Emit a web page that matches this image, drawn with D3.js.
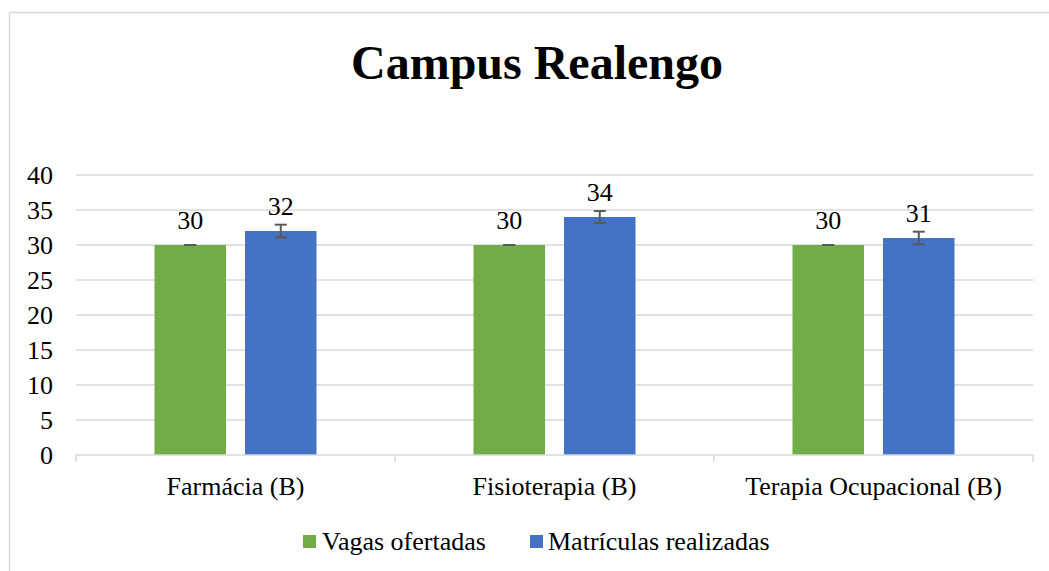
<!DOCTYPE html>
<html>
<head>
<meta charset="utf-8">
<script src="https://cdn.jsdelivr.net/npm/d3@7"></script>
<style>
  html, body { margin: 0; padding: 0; background: #fff; }
</style>
</head>
<body>
<svg id="chart" width="1049" height="571"></svg>
<script>
const categories = ["Farmácia (B)", "Fisioterapia (B)", "Terapia Ocupacional (B)"];
const seriesNames = ["Vagas ofertadas", "Matrículas realizadas"];
const vagas = [30, 30, 30];
const matriculas = [32, 34, 31];
const errVagas = [0, 0, 0];
const errMatriculas = [0.9, 0.85, 0.9];
const yTicks = [0, 5, 10, 15, 20, 25, 30, 35, 40];
const colors = ["#70ad47", "#4472c4"];

const values = [vagas, matriculas];
const errors = [errVagas, errMatriculas];

const serif = "'Liberation Serif'";
const plotLeft = 76, plotRight = 1033, plotTop = 175, plotBottom = 455;

const svg = d3.select("#chart")
   .attr("font-family", serif);

// outer frame
svg.append("rect")
   .attr("x", 9.5).attr("y", 12.5)
   .attr("width", 1100).attr("height", 600)
   .attr("fill", "none")
   .attr("stroke", "#d9d9d9")
   .attr("stroke-width", 1.5);

svg.append("text")
   .attr("x", 537).attr("y", 79)
   .attr("text-anchor", "middle")
   .attr("font-family", serif)
   .attr("font-size", 48)
   .attr("font-weight", "bold")
   .text("Campus Realengo");

const y = d3.scaleLinear().domain([0, 40]).range([plotBottom, plotTop]);
const x0 = d3.scaleBand().domain(categories).range([plotLeft, plotRight]).padding(0);
const x1 = d3.scaleBand().domain(seriesNames)
   .range([0, x0.bandwidth()])
   .paddingInner(0.21)
   .paddingOuter(0.867);

// gridlines
svg.append("g")
   .selectAll("line")
   .data(yTicks.filter(d => d > 0))
   .join("line")
   .attr("x1", plotLeft).attr("x2", plotRight)
   .attr("y1", d => y(d)).attr("y2", d => y(d))
   .attr("stroke", "#d9d9d9")
   .attr("stroke-width", 1.5);

// y axis labels
const yAxis = svg.append("g")
   .attr("transform", `translate(${plotLeft - 23},0)`)
   .call(d3.axisLeft(y).tickValues(yTicks).tickSize(0).tickPadding(0));
yAxis.attr("font-family", serif).attr("font-size", 26);
yAxis.select(".domain").remove();
yAxis.selectAll("text").attr("fill", "#000");

// bars
const groups = svg.append("g")
   .selectAll("g")
   .data(seriesNames)
   .join("g")
   .attr("fill", (d, i) => colors[i]);

groups.selectAll("rect")
   .data((s, si) => categories.map((c, ci) => ({ c, s, v: values[si][ci], e: errors[si][ci] })))
   .join("rect")
   .attr("x", d => x0(d.c) + x1(d.s))
   .attr("width", x1.bandwidth())
   .attr("y", d => y(d.v))
   .attr("height", d => y(0) - y(d.v));

// x axis line with boundary ticks
svg.append("line")
   .attr("x1", plotLeft).attr("x2", plotRight)
   .attr("y1", y(0)).attr("y2", y(0))
   .attr("stroke", "#d9d9d9").attr("stroke-width", 1.5);

const bounds = categories.map(c => x0(c)).concat([plotRight]);
svg.append("g")
   .selectAll("line")
   .data(bounds)
   .join("line")
   .attr("x1", d => d).attr("x2", d => d)
   .attr("y1", y(0)).attr("y2", y(0) + 7)
   .attr("stroke", "#d9d9d9").attr("stroke-width", 1.5);

const xAxis = svg.append("g")
   .attr("transform", `translate(0,${y(0)})`)
   .call(d3.axisBottom(x0).tickSize(0).tickPadding(0));
xAxis.attr("font-family", serif).attr("font-size", 26);
xAxis.select(".domain").remove();
xAxis.selectAll("text")
   .attr("dy", null)
   .attr("y", 40)
   .attr("fill", "#000");

// error bars
const errG = svg.append("g")
   .attr("stroke", "#595959")
   .attr("stroke-width", 2)
   .selectAll("g")
   .data(seriesNames.flatMap((s, si) => categories.map((c, ci) => ({ c, s, v: values[si][ci], e: errors[si][ci] }))))
   .join("g")
   .attr("transform", d => `translate(${x0(d.c) + x1(d.s) + x1.bandwidth() / 2},0)`);

errG.append("line")
   .attr("x1", 0).attr("x2", 0)
   .attr("y1", d => y(d.v + d.e)).attr("y2", d => y(d.v - d.e));
errG.append("line")
   .attr("x1", -6).attr("x2", 6)
   .attr("y1", d => y(d.v + d.e)).attr("y2", d => y(d.v + d.e));
errG.append("line")
   .attr("x1", -6).attr("x2", 6)
   .attr("y1", d => y(d.v - d.e)).attr("y2", d => y(d.v - d.e));

// data labels
svg.append("g")
   .attr("font-family", serif)
   .attr("font-size", 26)
   .selectAll("text")
   .data(seriesNames.flatMap((s, si) => categories.map((c, ci) => ({ c, s, v: values[si][ci] }))))
   .join("text")
   .attr("x", d => x0(d.c) + x1(d.s) + x1.bandwidth() / 2)
   .attr("y", d => y(d.v) - 16)
   .attr("text-anchor", "middle")
   .text(d => d.v);

// legend
const legendItems = [
   { name: seriesNames[0], sx: 303, tx: 322 },
   { name: seriesNames[1], sx: 530, tx: 548 }
];
const legend = svg.append("g")
   .attr("font-family", serif)
   .attr("font-size", 26)
   .selectAll("g")
   .data(legendItems)
   .join("g");
legend.append("rect")
   .attr("x", d => d.sx).attr("y", 535)
   .attr("width", 13).attr("height", 13)
   .attr("fill", (d, i) => colors[i]);
legend.append("text")
   .attr("x", d => d.tx).attr("y", 550)
   .text(d => d.name);
</script>
</body>
</html>
